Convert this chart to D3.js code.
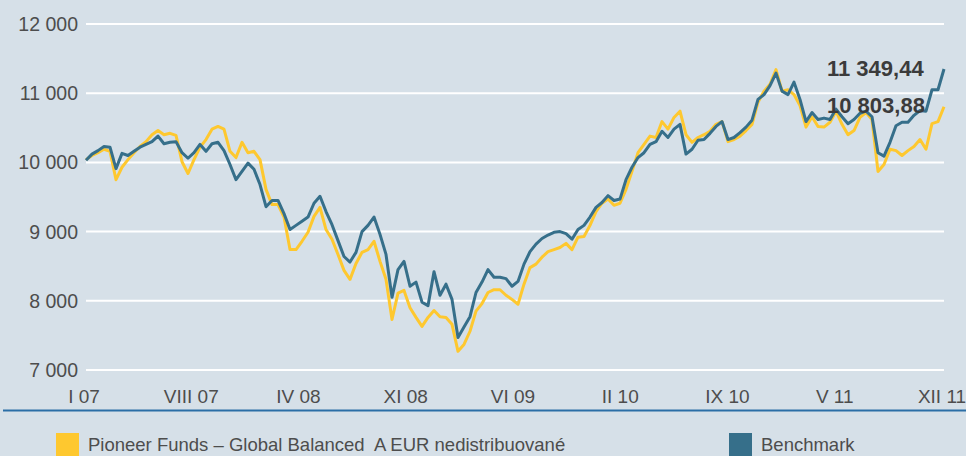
<!DOCTYPE html>
<html>
<head>
<meta charset="utf-8">
<script src="https://cdn.jsdelivr.net/npm/d3@7"></script>
<style>
  html, body { margin: 0; padding: 0; background: #d6e0e8; }
  svg { display: block; }
  text { font-family: "Liberation Sans", Arial, sans-serif; }
</style>
</head>
<body>
<svg id="chart" width="966" height="456"></svg>
<script>
// tick labels along the bottom (evenly spaced, not exact months)
var monthLabels = ["I 07", "VIII 07", "IV 08", "XI 08", "VI 09", "II 10", "IX 10", "V 11", "XII 11"];
var yTicks = [7000, 8000, 9000, 10000, 11000, 12000];

// fund values at even steps
var fundValues = [
  10040, 10100, 10140, 10190, 10160, 9750, 9930, 10040, 10140, 10230,
  10300, 10400, 10460, 10400, 10420, 10390, 10010, 9840, 10040, 10220,
  10330, 10480, 10520, 10480, 10160, 10070, 10290, 10140, 10160, 10040,
  9610, 9390, 9390, 9210, 8740, 8740, 8860, 8990, 9220, 9350,
  9030, 8890, 8670, 8440, 8310, 8540, 8700, 8740, 8860, 8570,
  8310, 7730, 8110, 8150, 7900, 7760, 7630, 7760, 7860, 7770,
  7760, 7660, 7270, 7370, 7560, 7850, 7960, 8120, 8160, 8160,
  8080, 8020, 7950, 8240, 8480, 8530, 8630, 8710, 8740, 8770,
  8830, 8740, 8920, 8930, 9090, 9290, 9410, 9470, 9380, 9410,
  9610, 9870, 10140, 10260, 10380, 10360, 10590, 10480, 10650, 10740,
  10400, 10290, 10360, 10400, 10450, 10550, 10590, 10300, 10330, 10380,
  10460, 10550, 10870, 11030, 11130, 11340, 11030, 11050, 10980, 10820,
  10510, 10660, 10520, 10510, 10580, 10740, 10550, 10400, 10460, 10650,
  10720, 10620, 9870, 9970, 10190, 10170, 10100, 10170, 10230, 10330,
  10190, 10560, 10590, 10803.88
];

// benchmark values
var benchValues = [
  10030, 10120, 10170, 10230, 10220, 9910, 10130, 10100, 10160, 10220,
  10260, 10300, 10380, 10270, 10290, 10300, 10140, 10060, 10140, 10260,
  10160, 10270, 10290, 10170, 9970, 9750, 9870, 9990, 9900, 9680,
  9360, 9450, 9450, 9260, 9030, 9090, 9150, 9210, 9410, 9510,
  9290, 9100, 8870, 8640, 8560, 8700, 9000, 9090, 9210, 8960,
  8670, 8050, 8450, 8570, 8210, 8270, 7980, 7930, 8420, 8080,
  8240, 8020, 7470, 7620, 7770, 8120, 8270, 8450, 8340, 8340,
  8320, 8210, 8280, 8530, 8710, 8820, 8900, 8950, 8990, 9000,
  8970, 8890, 9030, 9090, 9210, 9350, 9420, 9520, 9450, 9470,
  9750, 9930, 10070, 10140, 10260, 10300, 10450, 10360, 10480, 10550,
  10120, 10190, 10320, 10330, 10420, 10520, 10590, 10330, 10360, 10430,
  10510, 10610, 10910, 10980, 11110, 11290, 11030, 10980, 11160, 10910,
  10590, 10720, 10620, 10640, 10620, 10770, 10660, 10560, 10620, 10710,
  10740, 10660, 10140, 10090, 10290, 10530, 10580, 10580, 10680, 10750,
  10740, 11050, 11050, 11349.44
];

var legendNames = ["Pioneer Funds \u2013 Global Balanced\u00a0 A EUR nedistribuovan\u00e9", "Benchmark"];
var colors = ["#fec82f", "#366f8a"];

var svg = d3.select("#chart");
var locale = d3.formatLocale({ decimal: ",", thousands: "\u00a0", grouping: [3], currency: ["", ""] });
var fmtInt = locale.format(",.0f");
var fmtDec = locale.format(",.2f");

var x = d3.scaleLinear().domain([0, fundValues.length - 1]).range([86, 944]);
var y = d3.scaleLinear().domain([7000, 12000]).range([370, 24]);
var xLab = d3.scalePoint().domain(monthLabels).range([84, 942]);

// grid lines
svg.append("g")
  .selectAll("line")
  .data(yTicks)
  .enter().append("line")
    .attr("x1", 86).attr("x2", 944)
    .attr("y1", function(d) { return y(d); })
    .attr("y2", function(d) { return y(d); })
    .attr("stroke", "#ffffff")
    .attr("stroke-width", 2);

// y labels
svg.append("g")
  .selectAll("text")
  .data(yTicks)
  .enter().append("text")
    .attr("x", 78)
    .attr("y", function(d) { return y(d); })
    .attr("dy", "0.36em")
    .attr("text-anchor", "end")
    .attr("font-size", 19.5)
    .attr("fill", "#4d4d4d")
    .text(function(d) { return fmtInt(d); });

// x labels
svg.append("g")
  .selectAll("text")
  .data(monthLabels)
  .enter().append("text")
    .attr("x", function(d) { return xLab(d); })
    .attr("y", 403)
    .attr("text-anchor", "middle")
    .attr("font-size", 19)
    .attr("fill", "#4d4d4d")
    .text(function(d) { return d; });

// base line under the axis
svg.append("line")
  .attr("x1", 3).attr("x2", 966)
  .attr("y1", 410.5).attr("y2", 410.5)
  .attr("stroke", "#2b6ea6")
  .attr("stroke-width", 2);

// the two series, benchmark drawn on top
var line = d3.line()
  .x(function(d, i) { return x(i); })
  .y(function(d) { return y(d); });

[fundValues, benchValues].forEach(function(values, k) {
  svg.append("path")
    .datum(values)
    .attr("d", line)
    .attr("fill", "none")
    .attr("stroke", colors[k])
    .attr("stroke-width", 3)
    .attr("stroke-linejoin", "round");
});

// end values
var lastBench = benchValues[benchValues.length - 1];
var lastFund = fundValues[fundValues.length - 1];
[lastBench, lastFund].forEach(function(v, k) {
  svg.append("text")
    .attr("x", 827)
    .attr("y", k === 0 ? 76 : 113)
    .attr("font-size", 22)
    .attr("font-weight", "bold")
    .attr("fill", "#3b3b3b")
    .text(fmtDec(v));
});

// legend
var legendX = [56, 729];
legendNames.forEach(function(name, k) {
  svg.append("rect")
    .attr("x", legendX[k]).attr("y", 433)
    .attr("width", 23).attr("height", 30)
    .attr("fill", colors[k]);
  svg.append("text")
    .attr("x", legendX[k] + 32)
    .attr("y", 451)
    .attr("font-size", 18.5)
    .attr("fill", "#4d4d4d")
    .text(name);
});
</script>
</body>
</html>
